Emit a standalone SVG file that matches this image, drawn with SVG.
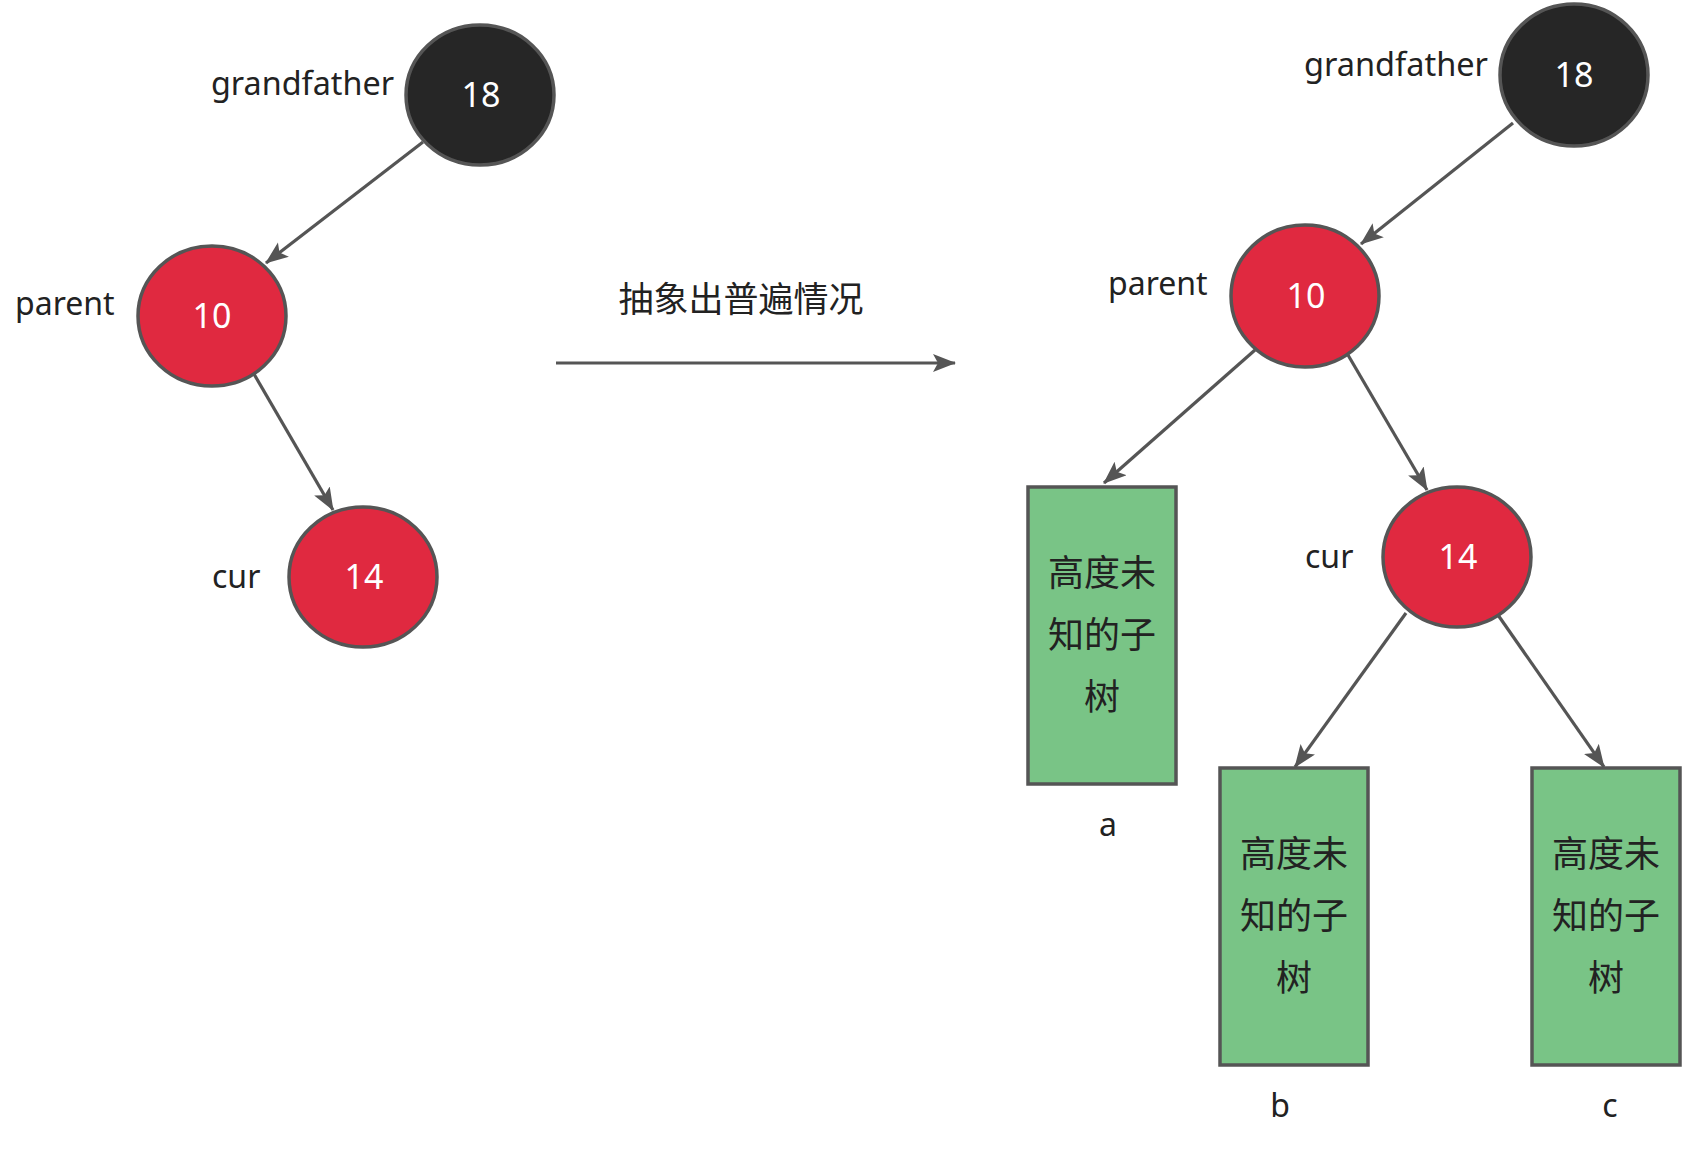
<svg xmlns="http://www.w3.org/2000/svg" width="1691" height="1150" viewBox="0 0 1691 1150">
<style>
  .bk{fill:#262626;stroke:#555;stroke-width:3.5}
  .rd{fill:#e02940;stroke:#555;stroke-width:3.5}
  .gr{fill:#79c486;stroke:#555;stroke-width:3.5}
  .num{font-family:"Noto Sans","Liberation Sans",sans-serif;font-size:34px;fill:#fff;text-anchor:middle}
  .lbl{font-family:"Noto Sans","Liberation Sans",sans-serif;font-size:32px;fill:#222}
  .cjk{font-family:"Noto Sans CJK SC","Noto Sans",sans-serif;font-size:36px;fill:#222;text-anchor:middle}
  .title{font-family:"Noto Sans CJK SC","Noto Sans",sans-serif;font-size:35px;fill:#222;text-anchor:middle}
  .edge{stroke:#555;stroke-width:3.2;fill:none;marker-end:url(#arr)}
</style>
<defs>
  <marker id="arr" markerUnits="userSpaceOnUse" markerWidth="26" markerHeight="20" refX="22" refY="9" orient="auto">
    <path d="M0,0 L23,9 L0,18 L5,9 z" fill="#555"/>
  </marker>
</defs>
<rect width="1691" height="1150" fill="#fff"/>

<g id="connectors">
  <line class="edge" x1="423" y1="142" x2="266" y2="263"/>
  <line class="edge" x1="254" y1="374" x2="333" y2="510"/>
  <line class="edge" x1="556" y1="363" x2="955" y2="363"/>
  <line class="edge" x1="1513" y1="123" x2="1361" y2="244"/>
  <line class="edge" x1="1255" y1="350" x2="1104" y2="483"/>
  <line class="edge" x1="1348" y1="355" x2="1427" y2="490"/>
  <line class="edge" x1="1406" y1="613" x2="1295" y2="767"/>
  <line class="edge" x1="1498" y1="615" x2="1604" y2="767"/>
</g>

<g id="L-grandfather">
  <ellipse class="bk" cx="480" cy="95" rx="74" ry="70"/>
  <text class="num" x="481" y="107">18</text>
  <text class="lbl" x="211" y="95" textLength="183" lengthAdjust="spacingAndGlyphs">grandfather</text>
</g>
<g id="L-parent">
  <ellipse class="rd" cx="212" cy="316" rx="74" ry="70"/>
  <text class="num" x="212" y="328">10</text>
  <text class="lbl" x="15" y="315">parent</text>
</g>
<g id="L-cur">
  <ellipse class="rd" cx="363" cy="577" rx="74" ry="70"/>
  <text class="num" x="364" y="589">14</text>
  <text class="lbl" x="212" y="588">cur</text>
</g>

<g id="title">
  <text class="title" x="741" y="312">抽象出普遍情况</text>
</g>

<g id="R-grandfather">
  <ellipse class="bk" cx="1574" cy="75" rx="74" ry="71"/>
  <text class="num" x="1574" y="87">18</text>
  <text class="lbl" x="1304" y="76" textLength="184" lengthAdjust="spacingAndGlyphs">grandfather</text>
</g>
<g id="R-parent">
  <ellipse class="rd" cx="1305" cy="296" rx="74" ry="71"/>
  <text class="num" x="1306" y="308">10</text>
  <text class="lbl" x="1108" y="295">parent</text>
</g>
<g id="R-cur">
  <ellipse class="rd" cx="1457" cy="557" rx="74" ry="70"/>
  <text class="num" x="1458" y="569">14</text>
  <text class="lbl" x="1305" y="568">cur</text>
</g>

<g id="subtree-a">
  <rect class="gr" x="1028" y="487" width="148" height="297"/>
  <text class="cjk" x="1102" y="586">高度未</text>
  <text class="cjk" x="1102" y="648">知的子</text>
  <text class="cjk" x="1102" y="710">树</text>
  <text class="lbl" x="1108" y="836" text-anchor="middle">a</text>
</g>
<g id="subtree-b">
  <rect class="gr" x="1220" y="768" width="148" height="297"/>
  <text class="cjk" x="1294" y="867">高度未</text>
  <text class="cjk" x="1294" y="929">知的子</text>
  <text class="cjk" x="1294" y="991">树</text>
  <text class="lbl" x="1280" y="1117" text-anchor="middle">b</text>
</g>
<g id="subtree-c">
  <rect class="gr" x="1532" y="768" width="148" height="297"/>
  <text class="cjk" x="1606" y="867">高度未</text>
  <text class="cjk" x="1606" y="929">知的子</text>
  <text class="cjk" x="1606" y="991">树</text>
  <text class="lbl" x="1610" y="1117" text-anchor="middle">c</text>
</g>
</svg>
